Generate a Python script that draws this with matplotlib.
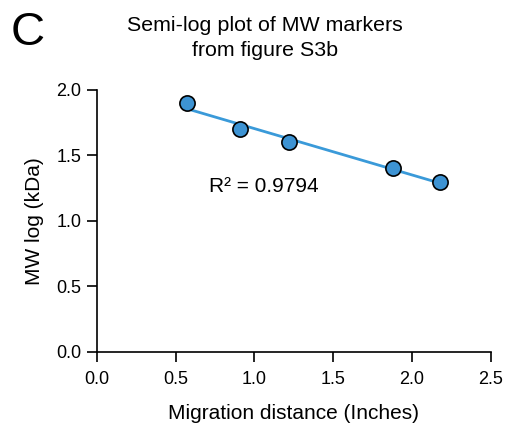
import numpy as np
import matplotlib
matplotlib.use('Agg')
import matplotlib.pyplot as plt

plt.rcParams['font.family'] = ['Liberation Sans', 'DejaVu Sans']

# datos
distancia = [0.57, 0.91, 1.22, 1.88, 2.18]
mw_log = [1.90, 1.70, 1.60, 1.40, 1.30]
x_ticks = [0.0, 0.5, 1.0, 1.5, 2.0, 2.5]
y_ticks = [0.0, 0.5, 1.0, 1.5, 2.0]

color_linea = '#3a9ad9'
color_punto = '#3d93d3'

fig = plt.figure(figsize=(5.07, 4.26), dpi=100)
ax = fig.add_axes([0.191, 0.174, 0.777, 0.615])

# ajuste lineal
pendiente, intercepto = np.polyfit(distancia, mw_log, 1)
xs = np.array([min(distancia), max(distancia)])
ax.plot(xs, pendiente * xs + intercepto, color=color_linea, lw=2, zorder=2)
ax.scatter(distancia, mw_log, s=120, color=color_punto, edgecolor='black',
           linewidth=1.2, zorder=3)

ax.text(1.06, 1.26, 'R² = 0.9794', fontsize=15, ha='center', va='center')

ax.set_xlim(0, 2.5)
ax.set_ylim(0, 2.0)
ax.set_xticks(x_ticks)
ax.set_yticks(y_ticks)
ax.set_xticklabels([f'{v:.1f}' for v in x_ticks])
ax.set_yticklabels([f'{v:.1f}' for v in y_ticks])
ax.tick_params(direction='out', length=7.5, width=1.2, labelsize=13)
ax.tick_params(axis='x', pad=6)
ax.tick_params(axis='y', pad=3.5)
for lado in ['top', 'right']:
    ax.spines[lado].set_visible(False)
for lado in ['left', 'bottom']:
    ax.spines[lado].set_linewidth(1.2)

ax.set_xlabel('Migration distance (Inches)', fontsize=15, labelpad=12)
ax.set_ylabel('MW log (kDa)', fontsize=15, labelpad=9)

fig.text(0.523, 0.962, 'Semi-log plot of MW markers\nfrom figure S3b',
         fontsize=15.4, ha='center', va='top', linespacing=1.4)
fig.text(0.02, 0.975, 'C', fontsize=34, ha='left', va='top')

plt.savefig('out.png', dpi=100)
